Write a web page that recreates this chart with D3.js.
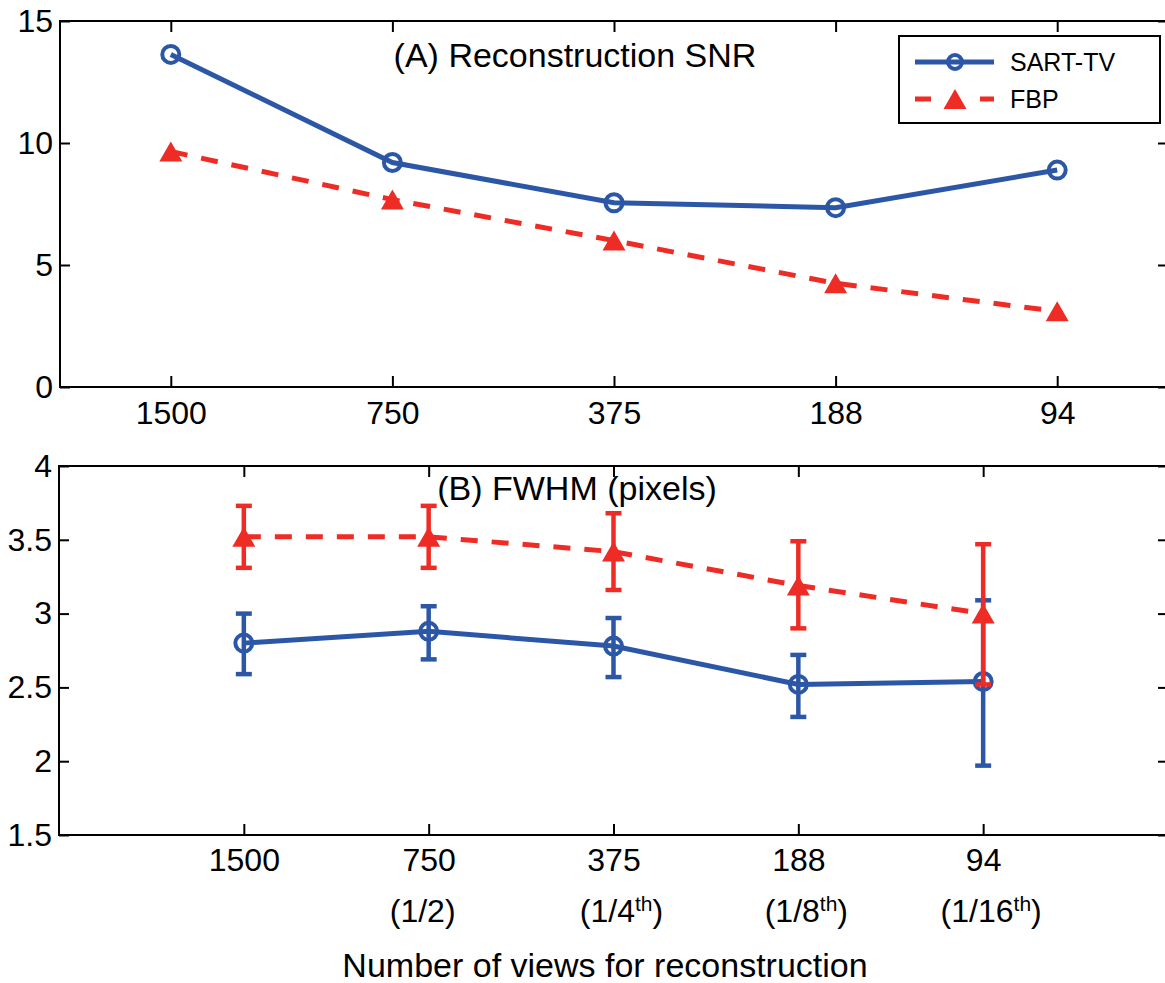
<!DOCTYPE html>
<html>
<head>
<meta charset="utf-8">
<script src="https://cdn.jsdelivr.net/npm/d3@7/dist/d3.min.js"></script>
<style>
  body { margin: 0; background: #fff; }
  svg { display: block; font-family: "Liberation Sans", Arial, sans-serif; }
  .axis path, .axis line { stroke: #000; stroke-width: 2px; }
  .axis text { font-size: 32px; fill: #000; font-family: "Liberation Sans", Arial, sans-serif; }
</style>
</head>
<body>
<div id="chart"></div>
<script>
// categories
const views = ["1500", "750", "375", "188", "94"];
const fractionBase = ["", "(1/2", "(1/4", "(1/8", "(1/16"];
const fractionSup = ["", "", "th", "th", "th"];

// (A) reconstruction SNR
const snrSart = [13.63, 9.2, 7.55, 7.35, 8.89];
const snrFbp = [9.65, 7.68, 6.0, 4.25, 3.1];

// (B) FWHM in pixels, with error bar ends
const fwhmSart = [2.8, 2.88, 2.78, 2.52, 2.54];
const fwhmSartLow = [2.59, 2.69, 2.57, 2.3, 1.97];
const fwhmSartHigh = [3.0, 3.05, 2.97, 2.72, 3.09];
const fwhmFbp = [3.52, 3.52, 3.42, 3.19, 3.0];
const fwhmFbpLow = [3.31, 3.31, 3.16, 2.9, 2.52];
const fwhmFbpHigh = [3.73, 3.73, 3.68, 3.49, 3.47];

const seriesNames = ["SART-TV", "FBP"];
const blue = "#2c57a7";
const red = "#ee2b25";

const W = 1165, H = 983;
const svg = d3.select("#chart").append("svg")
  .attr("width", W)
  .attr("height", H);

const idx = views.map((d, i) => i);

// panel geometry
const panelA = { left: 60, right: 1168, top: 21, bottom: 387 };
const panelB = { left: 59, right: 1168, top: 466, bottom: 835 };

// scales
const xA = d3.scaleLinear().domain([-0.5, 4.5]).range([panelA.left, panelA.right]);
const yA = d3.scaleLinear().domain([0, 15]).range([panelA.bottom, panelA.top]);
const xB = d3.scaleLinear().domain([-1, 5]).range([panelB.left, panelB.right]);
const yB = d3.scaleLinear().domain([1.5, 4]).range([panelB.bottom, panelB.top]);

// triangle marker shape (bbox-centred like matplotlib '^')
function triangle(w, h) {
  return `M0,${-h / 2}L${w / 2},${h / 2}L${-w / 2},${h / 2}Z`;
}

function drawFrame(p, x, y, yTicks, yFmt, labelPad) {
  const g = svg.append("g");
  g.append("rect")
    .attr("x", p.left).attr("y", p.top)
    .attr("width", p.right - p.left).attr("height", p.bottom - p.top)
    .attr("fill", "none").attr("stroke", "#000").attr("stroke-width", 2);

  g.append("g").attr("class", "axis")
    .attr("transform", `translate(0,${p.bottom})`)
    .call(d3.axisBottom(x).tickValues(idx).tickFormat(i => views[i])
      .tickSizeInner(-11).tickSizeOuter(0).tickPadding(labelPad));
  g.append("g").attr("class", "axis")
    .attr("transform", `translate(0,${p.top})`)
    .call(d3.axisTop(x).tickValues(idx).tickFormat("")
      .tickSizeInner(-11).tickSizeOuter(0));
  g.append("g").attr("class", "axis")
    .attr("transform", `translate(${p.left},0)`)
    .call(d3.axisLeft(y).tickValues(yTicks).tickFormat(yFmt)
      .tickSizeInner(-10).tickSizeOuter(0).tickPadding(7));
  g.append("g").attr("class", "axis")
    .attr("transform", `translate(${p.right},0)`)
    .call(d3.axisRight(y).tickValues(yTicks).tickFormat("")
      .tickSizeInner(-10).tickSizeOuter(0));
  g.selectAll(".axis .domain").remove();
  g.selectAll(".axis text").attr("font-size", 32);
  return g;
}

function drawSeries(g, x, y, vals, color, marker, dashed) {
  const line = d3.line().x((d, i) => x(i)).y(d => y(d));
  g.append("path")
    .attr("d", line(vals))
    .attr("fill", "none")
    .attr("stroke", color)
    .attr("stroke-width", 5)
    .attr("stroke-dasharray", dashed ? "17,14" : null);
  if (marker === "circle") {
    g.selectAll(null).data(vals).enter().append("circle")
      .attr("cx", (d, i) => x(i)).attr("cy", d => y(d))
      .attr("r", 8.5)
      .attr("fill", "none")
      .attr("stroke", color)
      .attr("stroke-width", 4);
  } else {
    g.selectAll(null).data(vals).enter().append("path")
      .attr("transform", (d, i) => `translate(${x(i)},${y(d)})`)
      .attr("d", triangle(23, 20))
      .attr("fill", color);
  }
}

function drawErrors(g, x, y, low, high, color) {
  const eb = g.append("g").attr("stroke", color).attr("stroke-width", 4.5);
  idx.forEach(i => {
    eb.append("line")
      .attr("x1", x(i)).attr("x2", x(i))
      .attr("y1", y(low[i])).attr("y2", y(high[i]));
    [low[i], high[i]].forEach(v => {
      eb.append("line")
        .attr("x1", x(i) - 8).attr("x2", x(i) + 8)
        .attr("y1", y(v)).attr("y2", y(v));
    });
  });
}

// ---------- panel A ----------
const gA = drawFrame(panelA, xA, yA, [0, 5, 10, 15], d => String(d), 14);
drawSeries(gA, xA, yA, snrSart, blue, "circle", false);
drawSeries(gA, xA, yA, snrFbp, red, "triangle", true);

svg.append("text")
  .attr("x", 575).attr("y", 67)
  .attr("text-anchor", "middle")
  .attr("font-size", 34)
  .text("(A) Reconstruction SNR");

// legend
const lg = svg.append("g");
lg.append("rect")
  .attr("x", 899).attr("y", 36).attr("width", 261).attr("height", 87)
  .attr("fill", "#fff").attr("stroke", "#000").attr("stroke-width", 2);
const legendRows = [
  { name: seriesNames[0], color: blue, marker: "circle", dashed: false, y: 62 },
  { name: seriesNames[1], color: red, marker: "triangle", dashed: true, y: 99 }
];
legendRows.forEach(r => {
  lg.append("line")
    .attr("x1", 915).attr("x2", 994).attr("y1", r.y).attr("y2", r.y)
    .attr("stroke", r.color).attr("stroke-width", 5)
    .attr("stroke-dasharray", r.dashed ? "16,49" : null);
  if (r.marker === "circle") {
    lg.append("circle").attr("cx", 955).attr("cy", r.y).attr("r", 7)
      .attr("fill", "none").attr("stroke", r.color).attr("stroke-width", 4);
  } else {
    lg.append("path").attr("transform", `translate(955,${r.y})`)
      .attr("d", triangle(23, 20)).attr("fill", r.color);
  }
  lg.append("text")
    .attr("x", 1010).attr("y", r.y + 9)
    .attr("font-size", 25)
    .text(r.name);
});

// ---------- panel B ----------
const gB = drawFrame(panelB, xB, yB, [1.5, 2, 2.5, 3, 3.5, 4], d => String(d), 13);
drawErrors(gB, xB, yB, fwhmSartLow, fwhmSartHigh, blue);
drawSeries(gB, xB, yB, fwhmSart, blue, "circle", false);
drawErrors(gB, xB, yB, fwhmFbpLow, fwhmFbpHigh, red);
drawSeries(gB, xB, yB, fwhmFbp, red, "triangle", true);

svg.append("text")
  .attr("x", 577).attr("y", 500)
  .attr("text-anchor", "middle")
  .attr("font-size", 34)
  .text("(B) FWHM (pixels)");

// second row of x tick labels (fractions)
const frac = svg.append("g");
idx.filter(i => fractionBase[i] !== "").forEach(i => {
  const t = frac.append("text")
    .attr("x", xB(i) + (fractionSup[i] ? 8 : -6))
    .attr("y", 922)
    .attr("text-anchor", "middle")
    .attr("font-size", 32);
  t.append("tspan").text(fractionBase[i]);
  if (fractionSup[i]) {
    t.append("tspan").attr("font-size", 21).attr("dy", -11).text(fractionSup[i]);
    t.append("tspan").attr("dy", 11).text(")");
  } else {
    t.append("tspan").text(")");
  }
});

// x axis title
svg.append("text")
  .attr("x", 605).attr("y", 977)
  .attr("text-anchor", "middle")
  .attr("font-size", 34)
  .text("Number of views for reconstruction");
</script>
</body>
</html>
